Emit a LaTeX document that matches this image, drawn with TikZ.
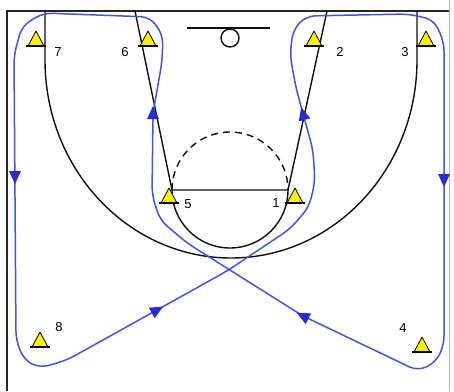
\documentclass[tikz,border=0pt]{standalone}
\usepackage{fontspec}
\setmainfont{Liberation Sans}
\definecolor{court}{RGB}{15,15,15}
\definecolor{runblue}{RGB}{65,85,225}
\definecolor{arrblue}{RGB}{40,45,210}
\definecolor{coneyellow}{RGB}{255,240,0}
\begin{document}
\begin{tikzpicture}[x=1pt,y=-1pt,
  courtline/.style={draw=court,line width=1.4pt},
  runpath/.style={draw=runblue,line width=1.5pt,rounded corners=9pt},
  lbl/.style={font=\fontsize{13}{13}\selectfont,text=black,inner sep=0pt},
  cone/.pic={\filldraw[fill=coneyellow,draw=black,line width=0.8pt,line join=round] (-8,0) -- (0,-15) -- (8,0) -- cycle;
             \draw[black,line width=1.6pt] (-10,0) -- (10,0);},
  arrowhd/.pic={\fill[arrblue] (7,0) -- (-6,6) -- (-6,-6) -- cycle;}]
\useasboundingbox (0,0) rectangle (454,391);
\fill[white] (0,0) rectangle (454,391);
% borders
\draw[black!85,line width=1.8pt] (7,391) -- (7,11) -- (449,11);
\draw[black!30,line width=0.8pt] (449,0) -- (449,391);
% backboard and hoop
\draw[courtline] (187,28) -- (270,28);
\draw[courtline] (230,38) circle[radius=9];
% lane
\draw[courtline] (135,11) -- (172,190) -- (288,190) -- (327,11);
% free throw circle
\draw[courtline,dash pattern=on 7pt off 5pt] (172,190) arc[start angle=180,end angle=360,radius=58];
\draw[courtline] (172,190) arc[start angle=180,end angle=0,radius=58];
% three point line
\draw[courtline] (45,11) -- (45,60) arc[start angle=180,end angle=0,x radius=186,y radius=198] -- (417,11);
% player positions
\coordinate (p7) at (36,46);
\coordinate (p6) at (148,46);
\coordinate (p2) at (314,46);
\coordinate (p3) at (426,46);
\coordinate (p5) at (169,203);
\coordinate (p1) at (295,203);
\coordinate (p8) at (40,347);
\coordinate (p4) at (422,352);
% blue movement loop
\draw[runpath] (67,360) -- (227,271) -- (290,229) -- (309,207) -- (315,182) -- (313,150)
  -- (296,88) -- (290,55) -- (293,30) -- (306,16) -- (409,14) -- (434,20) -- (444,42)
  -- (444,345) -- (436,362) -- (418,371) -- (303,316) -- (187,243) -- (160,220)
  -- (152,195) -- (153,113) -- (162,62) -- (163,35) -- (150,17) -- (43,13) -- (22,26)
  -- (14,55) -- (16,340) -- (24,360) -- (40,368) -- cycle;
% arrowheads
\pic[rotate=90] at (153,113) {arrowhd};
\pic[rotate=105] at (303,114) {arrowhd};
\pic[rotate=-90] at (15,177) {arrowhd};
\pic[rotate=-90] at (444,180) {arrowhd};
\pic[rotate=29] at (157,310) {arrowhd};
\pic[rotate=153] at (303,316) {arrowhd};
% cones
\foreach \p in {p7,p6,p2,p3,p5,p1,p8,p4} \pic at (\p) {cone};
% labels
\node[lbl] (l7) at (58,52) {7};
\node[lbl] (l6) at (125,52) {6};
\node[lbl] (l2) at (340,52) {2};
\node[lbl] (l3) at (405,52) {3};
\node[lbl] (l5) at (188,204) {5};
\node[lbl] (l1) at (276,203) {1};
\node[lbl] (l8) at (59,327) {8};
\node[lbl] (l4) at (403,328) {4};
\end{tikzpicture}
\end{document}
